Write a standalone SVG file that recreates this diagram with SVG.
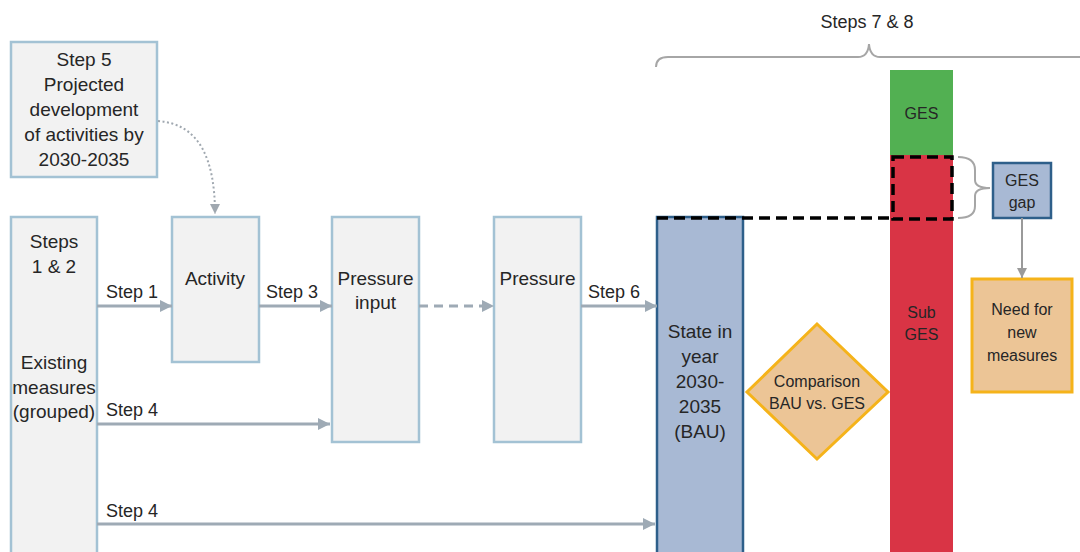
<svg xmlns="http://www.w3.org/2000/svg" width="1080" height="552" viewBox="0 0 1080 552">
<style>
text{font-family:"Liberation Sans",Arial,sans-serif;fill:#262626;text-anchor:middle}
.box{fill:#f2f2f2;stroke:#a3c2d4;stroke-width:2.5}
.t{font-size:19px}
.s{font-size:18px;text-anchor:start}
.m{font-size:16px}
.blue{fill:#a8b9d4;stroke:#2e5f8a;stroke-width:2.5}
.tan{fill:#ecc596;stroke:#f5b31a;stroke-width:3}
.arr{stroke:#9eaab5;stroke-width:3;fill:none}
.brace{stroke:#a6a6a6;stroke-width:2;fill:none}
.blk{stroke:#000;stroke-width:3.5;fill:none;stroke-dasharray:11,6}
</style>
<defs>
<marker id="ah" viewBox="0 0 10 10" refX="10" refY="5" markerWidth="4" markerHeight="4" orient="auto" markerUnits="strokeWidth">
<path d="M0,0 L10,5 L0,10 z" fill="#9eaab5"/>
</marker>
<marker id="ah2" viewBox="0 0 10 10" refX="10" refY="5" markerWidth="5" markerHeight="5" orient="auto" markerUnits="strokeWidth">
<path d="M0,0 L10,5 L0,10 z" fill="#a0a8b0"/>
</marker>
<marker id="ah3" viewBox="0 0 10 10" refX="10" refY="5" markerWidth="5" markerHeight="5" orient="auto" markerUnits="strokeWidth">
<path d="M0,0 L10,5 L0,10 z" fill="#9a9a9a"/>
</marker>
</defs>

<g id="step5">
<rect class="box" x="11" y="42" width="146" height="135"/>
<text class="t" x="84" y="66">Step 5</text>
<text class="t" x="84" y="91">Projected</text>
<text class="t" x="84" y="116">development</text>
<text class="t" x="84" y="141">of activities by</text>
<text class="t" x="84" y="166">2030-2035</text>
</g>

<g id="steps12">
<rect class="box" x="11" y="217" width="86" height="345"/>
<text class="t" x="54" y="248">Steps</text>
<text class="t" x="54" y="273">1 &amp; 2</text>
<text class="t" x="54" y="369">Existing</text>
<text class="t" x="54" y="394">measures</text>
<text class="t" x="54" y="418">(grouped)</text>
</g>

<g id="activity">
<rect class="box" x="172" y="217" width="87" height="145"/>
<text class="t" x="215" y="285">Activity</text>
</g>

<g id="pressure-input">
<rect class="box" x="332" y="217" width="87" height="225"/>
<text class="t" x="375.5" y="285">Pressure</text>
<text class="t" x="375.5" y="309">input</text>
</g>

<g id="pressure">
<rect class="box" x="494" y="217" width="87" height="225"/>
<text class="t" x="537.5" y="285">Pressure</text>
</g>

<g id="state">
<rect class="blue" x="657" y="217" width="86" height="345"/>
<text class="t" x="700" y="338">State in</text>
<text class="t" x="700" y="363">year</text>
<text class="t" x="700" y="388">2030-</text>
<text class="t" x="700" y="413">2035</text>
<text class="t" x="700" y="438">(BAU)</text>
</g>

<g id="comparison">
<polygon class="tan" points="817,324 888,392 817,459 747,392"/>
<text class="m" x="817" y="387">Comparison</text>
<text class="m" x="817" y="409">BAU vs. GES</text>
</g>

<g id="ges-column">
<rect x="890" y="70" width="63" height="86" fill="#52b052"/>
<rect x="890" y="155" width="63" height="400" fill="#d93445"/>
<text class="m" x="921.5" y="119">GES</text>
<text class="m" x="921.5" y="318">Sub</text>
<text class="m" x="921.5" y="340">GES</text>
</g>

<g id="ges-gap">
<rect class="blue" x="993" y="163" width="58" height="55"/>
<text class="m" x="1022" y="186">GES</text>
<text class="m" x="1022" y="208">gap</text>
</g>

<g id="need-measures">
<rect class="tan" x="972" y="279" width="100" height="113"/>
<text class="m" x="1022" y="315">Need for</text>
<text class="m" x="1022" y="338">new</text>
<text class="m" x="1022" y="361">measures</text>
</g>

<g id="steps78">
<text x="867" y="28" style="font-size:18px">Steps 7 &amp; 8</text>
<path class="brace" d="M656,67 Q656,57 668,57 L858,57 Q868,57 869,44 Q870,57 880,57 L1080,57"/>
</g>

<g id="connectors">
<line class="arr" x1="97" y1="306" x2="172" y2="306" marker-end="url(#ah)"/>
<line class="arr" x1="259" y1="306" x2="332" y2="306" marker-end="url(#ah)"/>
<line class="arr" x1="419" y1="306" x2="494" y2="306" stroke-dasharray="9,6" marker-end="url(#ah)"/>
<line class="arr" x1="581" y1="306" x2="657" y2="306" marker-end="url(#ah)"/>
<line class="arr" x1="97" y1="424" x2="330" y2="424" marker-end="url(#ah)"/>
<line class="arr" x1="97" y1="524" x2="655" y2="524" marker-end="url(#ah)"/>
<path d="M158,121 C200,124 215,160 215,214" fill="none" stroke="#a0a8b0" stroke-width="2" stroke-dasharray="2,2.5" marker-end="url(#ah2)"/>
<line x1="1022" y1="218" x2="1022" y2="278" stroke="#9a9a9a" stroke-width="2" marker-end="url(#ah3)"/>
<path class="brace" d="M958,157 Q975,157 975,170 L975,180 Q975,188 990,188 Q975,188 975,196 L975,206 Q975,218 958,218"/>
<path class="blk" d="M657,218 L892,218"/>
<rect class="blk" x="893" y="157" width="59" height="62"/>
<text class="s" x="106" y="298">Step 1</text>
<text class="s" x="266" y="298">Step 3</text>
<text class="s" x="588" y="298">Step 6</text>
<text class="s" x="106" y="416">Step 4</text>
<text class="s" x="106" y="517">Step 4</text>
</g>
</svg>
